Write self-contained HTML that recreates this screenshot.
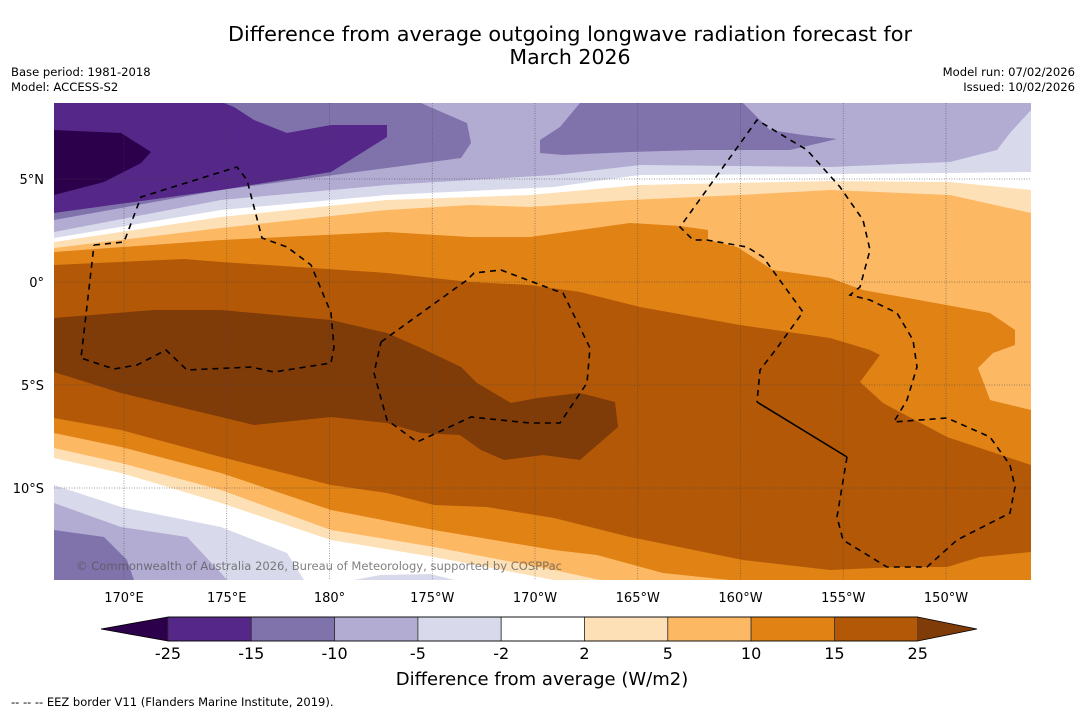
<!DOCTYPE html>
<html><head><meta charset="utf-8">
<style>
html,body{margin:0;padding:0;background:#fff;}
body{width:1085px;height:713px;overflow:hidden;font-family:"DejaVu Sans","Liberation Sans",sans-serif;}
svg text{font-family:"DejaVu Sans","Liberation Sans",sans-serif;}
</style></head>
<body>
<svg id="fig" width="1085" height="713" viewBox="0 0 1085 713" xmlns="http://www.w3.org/2000/svg">
<text x="570" y="41" font-size="20" text-anchor="middle" fill="#000" textLength="684" lengthAdjust="spacingAndGlyphs">Difference from average outgoing longwave radiation forecast for</text>
<text x="570" y="64" font-size="20.5" text-anchor="middle" fill="#000">March 2026</text>
<text x="11" y="76" font-size="11.6">Base period: 1981-2018</text>
<text x="11" y="91" font-size="11.6">Model: ACCESS-S2</text>
<text x="1075" y="76" font-size="11.6" text-anchor="end">Model run: 07/02/2026</text>
<text x="1075" y="91" font-size="11.6" text-anchor="end">Issued: 10/02/2026</text>
<defs><clipPath id="mapclip"><rect x="54" y="103" width="977" height="477"/></clipPath></defs>
<g id="map" clip-path="url(#mapclip)"></g>
<g id="axes"></g>
<g id="cbar"></g>
<text x="542" y="685" font-size="18" text-anchor="middle">Difference from average (W/m2)</text>
<text x="11" y="706" font-size="11.5">--  --  -- EEZ border V11 (Flanders Marine Institute, 2019).</text>
</svg>
<script>
const levels = [-25,-15,-10,-5,-2,2,5,10,15,25];
const colors = ['#2d004b','#542788','#8073ac','#b2abd2','#d8daeb','#ffffff','#fee0b6','#fdb863','#e08214','#b35806','#7f3b08'];
const lonTicks = [170,175,180,185,190,195,200,205,210];
const lonLabels = ['170°E','175°E','180°','175°W','170°W','165°W','160°W','155°W','150°W'];
const latTicks = [5,0,-5,-10];
const latLabels = ['5°N','0°','5°S','10°S'];

const NS='http://www.w3.org/2000/svg';
function xLon(l){return 124+(l-170)*20.55;}
function yLat(l){return 282-l*20.6;}
function mk(tag,attrs,parent){const e=document.createElementNS(NS,tag);for(const k in attrs)e.setAttribute(k,attrs[k]);parent.appendChild(e);return e;}
const map=document.getElementById('map');
const X0=54,X1=1031,Y0=103,Y1=580;
mk('rect',{x:X0,y:Y0,width:X1-X0,height:Y1-Y0,fill:colors[9]},map);
function pts(a){return a.map(p=>p[0]+','+p[1]).join(' L');}
function above(line,c,name){
  const p=mk('path',{d:'M'+X0+','+Y0+' L'+pts(line)+' L'+X1+','+Y0+' Z',fill:c},map);
  
  
}
function below(line,c,name){
  const p=mk('path',{d:'M'+X0+','+Y1+' L'+pts(line)+' L'+X1+','+Y1+' Z',fill:c},map);
  
  
}
function poly(line,c,name){
  const p=mk('path',{d:'M'+pts(line)+' Z',fill:c},map);
  
  
}
above([[54,265],[184,259],[221,262],[387,273],[470,282],[530,285],[580,292],[640,307],[740,325],[830,338],[870,350],[880,355],[860,382],[883,403],[947,437],[1031,465]],colors[8],'band-10-15-north');
above([[54,252],[221,240],[387,232],[470,237],[530,237],[630,223],[680,226],[708,230],[708,240],[737,247],[773,270],[830,278],[863,290],[930,302],[990,313],[1015,330],[1015,345],[993,353],[978,368],[990,400],[1031,410]],colors[7],'band-5-10');
above([[54,248],[221,228],[387,210],[470,205],[530,207],[630,200],[740,195],[830,190],[950,195],[1031,213]],colors[6],'band-2-5');
above([[54,242],[221,217],[387,200],[530,195],[640,185],[830,181],[950,182],[1031,190]],colors[5],'band-neutral');
above([[54,238],[221,210],[387,195],[554,187],[640,175],[830,174],[950,173],[1031,172]],colors[4],'band-m2-m5');
above([[54,232],[221,200],[387,185],[554,175],[640,165],[830,167],[950,162],[997,150],[1010,133],[1031,110]],colors[3],'band-m5-m10');
poly([[54,103],[421,103],[430,107],[467,123],[471,143],[461,158],[387,168],[221,190],[54,220]],colors[2],'band-m10-m15-west');
poly([[580,103],[743,103],[770,130],[803,135],[837,139],[790,150],[697,150],[630,152],[563,155],[540,153],[540,140],[560,127]],colors[2],'band-m10-m15-central');
poly([[54,103],[224,103],[234,107],[254,120],[287,133],[331,125],[387,125],[387,137],[331,172],[221,190],[54,213]],colors[1],'band-m15-m25');
poly([[54,130],[121,133],[151,152],[141,163],[104,182],[54,195]],colors[0],'band-below-m25');
poly([[54,318],[154,310],[221,310],[331,320],[387,333],[421,348],[461,367],[477,383],[511,403],[537,398],[580,393],[615,402],[618,427],[580,460],[543,455],[504,460],[481,450],[460,435],[421,433],[387,423],[331,417],[254,425],[221,417],[121,393],[54,372]],colors[10],'band-above-25');
below([[54,418],[121,430],[221,457],[331,485],[387,493],[434,505],[487,507],[554,518],[630,537],[743,560],[830,570],[897,567],[947,567],[980,557],[1031,552]],colors[8],'band-10-15-south');
below([[54,433],[121,447],[221,473],[331,510],[434,530],[554,550],[597,555],[663,573],[730,580]],colors[7],'band-5-10-south');
below([[54,448],[121,463],[221,490],[331,530],[434,547],[554,570],[600,580]],colors[6],'band-2-5-south');
below([[54,458],[121,473],[221,503],[331,540],[434,557],[554,580]],colors[5],'band-neutral-south');
below([[54,485],[121,507],[221,527],[287,553],[304,580]],colors[4],'band-m2-m5-south');
below([[54,503],[121,527],[187,537],[221,573],[227,580]],colors[3],'band-m5-m10-south');
below([[54,530],[104,537],[127,560],[134,580]],colors[2],'band-m10-m15-south');
poly([[354,580],[380,575],[430,574],[455,580]],colors[4],'band-m2-m5-blob');
lonTicks.forEach(l=>{const g=mk('line',{x1:xLon(l),x2:xLon(l),y1:Y0,y2:Y1,stroke:'#444','stroke-width':0.7,'stroke-dasharray':'1,1.5',opacity:0.7},map);

});
latTicks.forEach(l=>{const g=mk('line',{x1:X0,x2:X1,y1:yLat(l),y2:yLat(l),stroke:'#444','stroke-width':0.7,'stroke-dasharray':'1,1.5',opacity:0.7},map);

});
function eez(line,name,dash){const p=mk('path',{d:'M'+pts(line),fill:'none',stroke:'#000','stroke-width':1.6,'stroke-dasharray':dash||'6,5'},map);

}
eez([[94,245],[124,242],[141,197],[237,167],[247,180],[262,238],[287,247],[311,265],[331,313],[334,347],[331,363],[274,372],[251,367],[187,370],[166,350],[137,365],[114,369],[81,358],[94,245]],'eez-border-west');
eez([[381,342],[467,280],[474,273],[501,270],[554,290],[563,293],[590,348],[587,383],[560,423],[530,423],[471,417],[417,442],[387,420],[374,373],[381,342]],'eez-border-central');
eez([[895,420],[907,400],[917,367],[913,340],[897,313],[870,300],[850,295],[860,287],[870,250],[863,220],[840,187],[807,150],[757,120],[680,227],[693,240],[707,240],[747,247],[763,257],[803,312],[777,348],[760,370],[757,402]],'eez-border-east');
eez([[757,402],[847,457]],'eez-border-solid','none');
eez([[847,457],[837,517],[843,540],[887,567],[927,567],[957,540],[1010,513],[1015,487],[1010,465],[990,437],[947,418],[893,422]],'eez-border-southeast');
const cp=mk('text',{x:76,y:570,'font-size':11.6,fill:'#555','fill-opacity':0.75,textLength:486,lengthAdjust:'spacingAndGlyphs'},map);
cp.textContent='© Commonwealth of Australia 2026, Bureau of Meteorology, supported by COSPPac';


const axes=document.getElementById('axes');
lonTicks.forEach((l,i)=>{const t=mk('text',{x:xLon(l),y:602,'font-size':13,'text-anchor':'middle'},axes);t.textContent=lonLabels[i];

});
latTicks.forEach((l,i)=>{const t=mk('text',{x:44,y:yLat(l)+5,'font-size':13,'text-anchor':'end'},axes);t.textContent=latLabels[i];

});
const cb=document.getElementById('cbar');
const cbX0=168,cbW=83.3,cbY=617,cbH=24;
function cx(i){return cbX0+i*cbW;}
const lt=mk('polygon',{points:'101,629 '+cbX0+','+cbY+' '+cbX0+','+(cbY+cbH),fill:colors[0]},cb);


for(let i=0;i<levels.length-1;i++){const r=mk('rect',{x:cx(i),y:cbY,width:cbW,height:cbH,fill:colors[i+1],stroke:'#333','stroke-width':0.8},cb);

}
const rt=mk('polygon',{points:cx(levels.length-1)+','+cbY+' 977,629 '+cx(levels.length-1)+','+(cbY+cbH),fill:colors[10]},cb);


mk('path',{d:'M101,629 L'+cbX0+','+cbY+' L'+cx(9)+','+cbY+' L977,629 L'+cx(9)+','+(cbY+cbH)+' L'+cbX0+','+(cbY+cbH)+' Z',fill:'none',stroke:'#000','stroke-width':0.8},cb);
levels.forEach((v,i)=>{const t=mk('text',{x:cx(i),y:659,'font-size':16,'text-anchor':'middle'},cb);t.textContent=v;

});
</script>
</body></html>
